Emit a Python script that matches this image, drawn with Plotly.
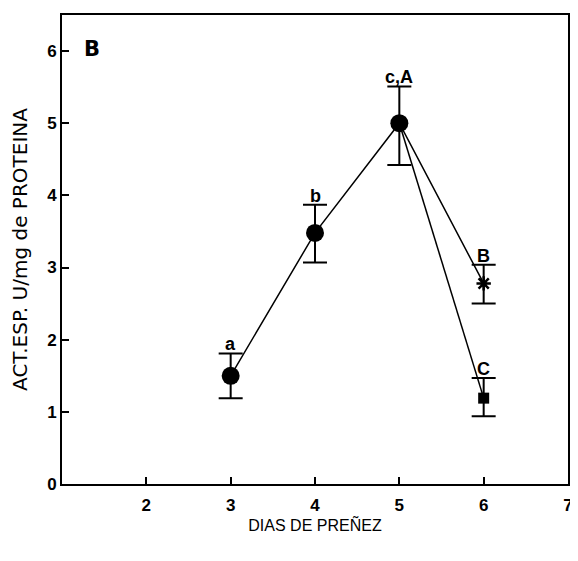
import plotly.graph_objects as go

# Data
main_x = [3, 4, 5]
main_y = [1.5, 3.48, 5.0]
main_err_plus = [0.31, 0.39, 0.51]
main_err_minus = [0.31, 0.41, 0.58]
main_labels = ["a", "b", "c,A"]

star_x = [6]
star_y = [2.78]
star_err_plus = [0.26]
star_err_minus = [0.28]
star_labels = ["B"]

sq_x = [6]
sq_y = [1.19]
sq_err_plus = [0.28]
sq_err_minus = [0.25]
sq_labels = ["C"]

x_ticks = [2, 3, 4, 5, 6, 7]
y_ticks = [0, 1, 2, 3, 4, 5, 6]

FONT = "Liberation Sans, Arial"

fig = go.Figure()

# connecting lines
fig.add_trace(go.Scatter(x=main_x + star_x, y=main_y + star_y, mode="lines",
                         line=dict(color="black", width=1.5), showlegend=False, hoverinfo="skip"))
fig.add_trace(go.Scatter(x=[main_x[-1]] + sq_x, y=[main_y[-1]] + sq_y, mode="lines",
                         line=dict(color="black", width=1.5), showlegend=False, hoverinfo="skip"))

err_style = dict(type="data", symmetric=False, color="black", thickness=2, width=12)

fig.add_trace(go.Scatter(x=main_x, y=main_y, mode="markers",
                         marker=dict(symbol="circle", size=18, color="black"),
                         error_y=dict(array=main_err_plus, arrayminus=main_err_minus, **err_style),
                         showlegend=False))
fig.add_trace(go.Scatter(x=star_x, y=star_y, mode="markers",
                         marker=dict(symbol="asterisk-open", size=12, color="black",
                                     line=dict(color="black", width=2.5)),
                         error_y=dict(array=star_err_plus, arrayminus=star_err_minus, **err_style),
                         showlegend=False))
fig.add_trace(go.Scatter(x=sq_x, y=sq_y, mode="markers",
                         marker=dict(symbol="square", size=11, color="black"),
                         error_y=dict(array=sq_err_plus, arrayminus=sq_err_minus, **err_style),
                         showlegend=False))

annotations = []
for xs, ys, ep, labs in [(main_x, main_y, main_err_plus, main_labels),
                         (star_x, star_y, star_err_plus, star_labels),
                         (sq_x, sq_y, sq_err_plus, sq_labels)]:
    for xv, yv, e, lab in zip(xs, ys, ep, labs):
        annotations.append(dict(x=xv, y=yv + e, text="<b>%s</b>" % lab, showarrow=False,
                                yanchor="bottom", xanchor="center", yshift=-3,
                                font=dict(family=FONT, size=18, color="black")))

annotations.append(dict(x=0.059, y=0.928, xref="paper", yref="paper", text="<b>B</b>",
                        showarrow=False, xanchor="center", yanchor="middle",
                        font=dict(family="DejaVu Sans", size=21, color="black")))

# The page body adds an 8 px margin, so the figure is 8 px smaller than the window
fig.update_layout(
    width=570, height=553,
    margin=dict(l=54, r=5, t=5, b=77),
    paper_bgcolor="white", plot_bgcolor="white",
    font=dict(family=FONT, size=14, color="black"),
    annotations=annotations,
    xaxis=dict(range=[1, 7], tickvals=x_ticks, ticks="inside", ticklen=7, tickwidth=1.5,
               tickcolor="black", showgrid=False, zeroline=False,
               showline=True, linecolor="black", linewidth=2, mirror=True,
               ticklabeloverflow="allow", ticklabelstandoff=5,
               tickfont=dict(size=17, family=FONT, weight="bold"),
               title=dict(text="DIAS DE PREÑEZ", standoff=4,
                          font=dict(size=16, family=FONT))),
    yaxis=dict(range=[0, 6.5], tickvals=y_ticks, ticks="inside", ticklen=7, tickwidth=1.5,
               tickcolor="black", showgrid=False, zeroline=False,
               showline=True, linecolor="black", linewidth=2, mirror=True,
               tickfont=dict(size=17, family=FONT, weight="bold"),
               title=dict(text="ACT.ESP. U/mg de PROTEINA", standoff=19,
                          font=dict(size=20, family="DejaVu Sans"))),
)

fig.write_html("out.html")
